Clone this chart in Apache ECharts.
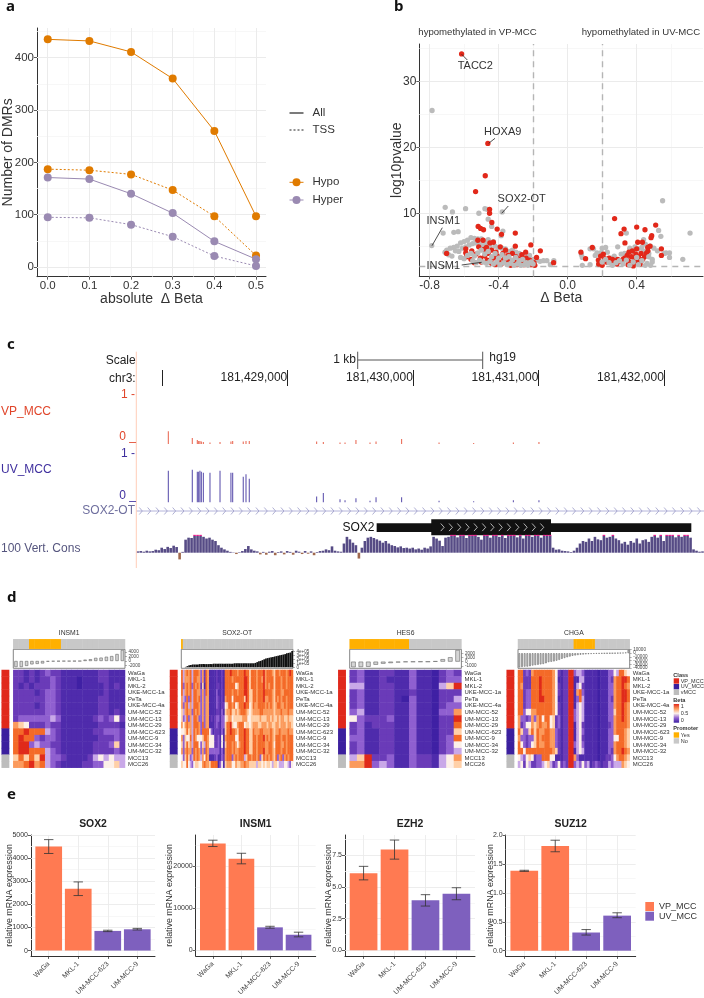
<!DOCTYPE html>
<html>
<head>
<meta charset="utf-8">
<title>Methylation panels</title>
<script src="https://cdn.jsdelivr.net/npm/echarts@6/dist/echarts.min.js"></script>
<style>
html,body{margin:0;padding:0;background:#fff;}
#main{width:704px;height:998px;}
</style>
</head>
<body>
<div id="main"></div>
<script>
/* panel a */
var thresholds = [0, 0.1, 0.2, 0.3, 0.4, 0.5];
var hypoAll = [435, 432, 411, 360, 260, 97];
var hypoTss = [187, 185, 177, 147, 97, 22];
var hyperAll = [171, 168, 140, 103, 49, 15];
var hyperTss = [95, 94, 81, 58, 21, 2];

/* panel b */
var grayLeft = [[-.785,25.6],[-.709,10.9],[-.667,10.2],[-.591,10.7],[-.514,10],[-.479,10.7],[-.466,10.6],[-.379,10.2],[-.46,9.1],[-.44,8],[-.787,5.1],[-.721,7],[-.659,7.1],[-.634,7.2],[-.375,7.3],[-.385,6.6],
[-.6,5.7],[-.58,5.9],[-.56,6.3],[-.54,6.2],[-.52,6.1],[-.5,6.1],[-.485,5.8],[-.46,6],[-.43,5.7],[-.62,5.5],[-.64,5],[-.66,4.8],[-.68,4.7],[-.7,4.4],[-.71,4.1],[-.69,3.7],[-.67,3.5],[-.65,4.3],[-.63,4.2],[-.61,4.7],[-.59,4.9],[-.57,5.2],[-.55,5.4],[-.53,5.5],[-.51,5.3],[-.49,5.1],[-.47,5.4],[-.45,5],[-.42,5],[-.4,4.8],[-.38,4.7],[-.36,4.6],[-.34,4.2],[-.32,4.4],[-.3,4.1],[-.28,3.9],[-.26,3.6],[-.24,3.3],[-.22,3.6],[-.2,3],[-.18,2.9],[-.16,2.7],[-.14,2.8],[-.12,2.8],[-.1,2.2],[-.08,2.8]];
var grayOverRed = [[-.62,3.3],[-.6,3.1],[-.58,3.6],[-.56,3.9],[-.54,3.5],[-.52,4],[-.5,4.4],[-.48,3.8],[-.46,4.2],[-.44,3.4],[-.42,3.9],[-.4,3.2],[-.38,3.7],[-.36,3.2],[-.34,3.4],[-.32,2.9],[-.3,3.3],[-.28,2.8],[-.26,3],[-.24,2.5],[-.22,2.5],[-.2,2.3],[-.55,2.8],[-.53,2.5],[-.51,2.9],[-.49,2.6],[-.47,2.4],[-.45,2.7],[-.43,2.3],[-.41,2.6],[-.39,2.2],[-.37,2.5],[-.35,2.2],[-.33,2.4],[-.31,2.1],[-.29,2.3],[-.27,2.1],[-.25,2.2],[-.23,2.1],[-.21,2.6],
[.2,2.6],[.22,3],[.24,2.5],[.26,2.1],[.28,2.5],[.3,2.8],[.32,2.3],[.34,2.9],[.36,2.1],[.38,2.6],[.41,2.2],[.43,2.8],[.45,2.1],[.47,3.4],[.4,3.3],[.46,2.4]];
var grayRight = [[.55,11.9],[.709,7],[.667,3],[.527,7.4],[.54,6.5],[.57,4],[.59,4],[.59,3.3],[.56,3.9],[.52,4.3],[.5,4.7],[.48,5],[.47,3.9],[.49,3],[.49,2.6],[.48,2.1],[.45,5.3],[.44,6],[.43,4.8],[.41,4.6],[.39,4.9],[.38,4.2],[.36,4.4],[.33,3.9],[.34,7],[.29,4.9],[.31,3.8],[.27,3.5],[.25,3.2],[.23,4.1],[.22,4.8],[.2,4.7],[.19,4],[.17,4],[.16,3.6],[.15,4.6],[.13,4.6],[.08,3.7],[.085,3.3],[.085,2.1],[.13,2.2],[.18,2.2],[.36,4.7],[.44,4.2]];
var redLeft = [[-.614,34.2],[-.462,20.6],[-.477,15.7],[-.533,13.3],[-.452,10.6],[-.452,10],[-.439,8.6],[-.518,8],[-.504,7.7],[-.487,7.5],[-.408,7.6],[-.383,6.8],[-.303,7],[-.213,5.2],[-.303,5],[-.158,4.3],[-.701,3.9],[-.243,4.1],[-.18,3.3],[-.081,2.5],
[-.59,4.6],[-.59,4],[-.585,3.4],[-.56,3],[-.555,4.3],[-.54,2.5],[-.53,3.8],[-.52,5.9],[-.515,4.9],[-.505,3.2],[-.5,2.6],[-.49,5.9],[-.485,4.5],[-.48,3.5],[-.47,4.8],[-.465,2.9],[-.46,3.9],[-.45,5.5],[-.44,2.4],[-.44,4.4],[-.43,5.6],[-.43,3.2],[-.42,2.2],[-.415,4.1],[-.405,3.5],[-.4,2.7],[-.39,4.9],[-.385,2.3],[-.375,3.9],[-.37,3],[-.36,4.4],[-.355,2.5],[-.345,3.6],[-.335,2.9],[-.33,2.1],[-.32,3.9],[-.31,2.6],[-.3,3.4],[-.295,2.2],[-.285,3.1],[-.275,2.4],[-.265,3.7],[-.255,2.7],[-.25,2.2],[-.24,3.2],[-.23,2.5],[-.22,2.9],[-.21,2.2],[-.195,2.5],[-.19,2.1]];
var redRight = [[.272,9.2],[.327,7.6],[.309,6.9],[.40,7.9],[.448,7.5],[.51,8.2],[.487,6.6],[.483,6.3],[.332,5.5],[.406,5.6],[.433,5.6],[.477,5],[.464,4.8],[.543,4.6],[.543,3.6],[.143,4.8],[.077,4.1],[.207,3.8],[.191,3.5],[.104,3.1],
[.178,2.9],[.18,2.3],[.2,2.1],[.215,3.1],[.225,2.6],[.24,3.2],[.255,2.4],[.26,3],[.27,2.8],[.285,2.3],[.29,3],[.305,2.7],[.32,3],[.33,3.2],[.345,3.6],[.35,2.8],[.355,4.1],[.365,2.5],[.37,3.4],[.375,4.3],[.385,2.4],[.39,3],[.395,3.8],[.4,4.6],[.405,2.7],[.41,3.4],[.42,2.3],[.425,3.9],[.435,3],[.445,3.4],[.455,3.9],[.465,4.3],[.35,2.2],[.38,2]];

/* panel c */
var chrTicks = [181428000, 181429000, 181430000, 181431000, 181432000];
var vpSignal = [[181428052,.26],[181428243,.12],[181428283,.08],[181428294,.06],[181428304,.06],[181428315,.05],[181428331,.04],[181428384,.03],[181428464,.04],[181428551,.05],[181428565,.06],[181428649,.05],[181428671,.06],[181428697,.06],[181429234,.05],[181429287,.04],[181429420,.03],[181429460,.03],[181429547,.08],[181429659,.03],[181429707,.05],[181429911,.1],[181430209,.03],[181430485,.02],[181430801,.03],[181431005,.04]];
var uvSignal = [[181428052,.64],[181428243,.66],[181428283,.62],[181428294,.62],[181428304,.64],[181428315,.62],[181428331,.6],[181428384,.6],[181428464,.64],[181428551,.6],[181428565,.6],[181428649,.52],[181428671,.57],[181428697,.48],[181429234,.12],[181429287,.19],[181429420,.06],[181429460,.04],[181429547,.08],[181429659,.03],[181429707,.1],[181429911,.1],[181430209,.03],[181430485,.02],[181430801,.04],[181431005,.04]];
var sox2otSpan = [181427797, 181432320];
var sox2Span = [181429712, 181432219];
var sox2Cds = [181430147, 181431101];
var consValues = [.08,.1,.06,.12,.08,.1,.18,.15,.3,.22,.35,.28,.42,.34,
-.4,.05,
.78,.9,.88,1,1,1,.95,.85,.9,.78,.7,
.45,.3,.2,.12,.05,.02,-.08,.03,
.1,.22,.4,.2,.12,.08,-.1,
.05,-.12,.06,.1,-.15,.04,.08,-.1,.1,.05,-.12,.12,.06,-.08,.1,-.06,.08,-.15,.04,.1,
.12,.2,.15,.38,.12,.08,.06,
.55,.95,.8,.6,.45,-.35,.3,
.7,.9,.95,.88,.8,
.72,.6,.7,.55,.45,
.4,.32,.38,.28,.3,.25,.3,.2,.25,.18,.3,.25,.38,
.95,.85,.72,.4,
.9,.95,1,1,.92,1,1,.88,1,1,1,.95,.78,1,1,.9,1,1,.95,1,.88,1,1,1,.92,1,.85,1,1,.95,1,1,.9,1,1,1,
.3,.18,.2,.12,.1,.08,.04,.12,
.3,.55,.7,.65,.85,.7,.95,.8,.75,1,.9,.95,1,.85,.75,
.55,.65,.48,.7,.6,.85,.55,.75,.8,.65,
.95,1,.9,1,.7,1,1,1,.92,1,.95,1,1,.9,
.2,.12,.06,.08];

/* panel d: one digit per cell, 0 = beta 0, 9 = beta 1 */
var cellLines = ['WaGa','MKL-1','MKL-2','UKE-MCC-1a','PeTa','UKE-MCC-4a','UM-MCC-52','UM-MCC-13','UM-MCC-29','UM-MCC-623','UM-MCC-9','UM-MCC-34','UM-MCC-32','MCC13','MCC26'];
var cellClass = [0,0,0,0,0,0,0,0,0,1,1,1,1,2,2];
var insm1Beta = ['221212322111111122111','221212232111011122111','212122232111011112121','222212332111111112111','222222332111111122111','222212332111111122111','222222332111111122121','233333343111111232352','765222322111111122221','889888432111111223332','898832332111111122232','899343322111111222362','899888432111111222232','686869433211112454544','778978432111122335564'];
var sox2otBeta = [
'84787848 88737287 11112112 18889888 78889886 88878889 78887688 78887898',
'84777848 87737287 11112112 18888788 88889986 88878879 78888688 87887888',
'83787838 78726187 11112212 18888885 68889986 88878889 78788688 87887888',
'84787848 87737387 11113112 18888788 78889986 68878889 88887688 87788888',
'74383848 87837377 11113212 17888588 88886986 68878889 77887687 87887888',
'73784748 88737377 11113212 25688785 68889885 68778888 78787678 87787888',
'64787738 78737377 11112213 16778667 67888765 67777887 77777677 78777877',
'63483748 87337377 12123313 35677566 66677755 66666766 67767667 67766766',
'75787748 88738377 11123213 36889655 78885665 67776677 76776677 67776776',
'55686748 78738888 53122213 16889887 68889886 68777887 77787677 87777877',
'73655848 75556887 55522315 17888885 58889886 68878889 78787688 87887888',
'63686748 88536487 55522315 16888787 57889886 68878888 77887588 87787888',
'73787738 78737387 33333313 17888787 78889886 68878889 77887688 87887888',
'53686348 78747587 11123113 27888378 78884688 78878368 78787683 78378788',
'65585435 66557877 68888135 16777557 66778776 66646656 56654665 44455435'];
var hes6Beta = ['231122113110232','231121113110233','441122113110469','231122112110222','231122103110224','231122113110233','341122113110337','532223113110229','231222113110228','231122113110226','331122113110238','231122113110235','231122113110234','469223113221457','779343113221456'];
var chgaBeta = [
'882327 888888 875212 299344 311111 011133 548865',
'882228 889888 875112 299114 411111 011132 788998',
'872228 889888 875212 299145 211111 011133 788987',
'882338 889888 875212 299178 311111 011133 788998',
'882338 889988 875112 299138 411111 011132 788998',
'882338 888888 875212 299145 411111 011133 788987',
'883557 788888 875212 299345 411111 011133 688987',
'733237 378588 562312 299345 411111 011133 788987',
'723557 678778 562312 299145 211111 011123 788887',
'863368 687788 773212 299145 311111 011133 788876',
'733233 687888 773212 299145 211111 011133 558876',
'853235 687788 773212 299345 311111 011133 788876',
'885888 888888 876212 299145 411111 011132 788987',
'543565 233888 551112 299731 111111 011223 578876',
'452542 233456 423523 299343 534123 212243 444765'];
var insm1Promoter = '000111111000000000000';
var sox2otPromoter = '1000000000000000000000000000000000000000000000000000000000000000';
var hes6Promoter = '111111110000000';
var chgaPromoter = '000000000000000000000111111110000000000000';
var insm1Expr = [-2700,-2700,-2200,-1500,-1300,-1100,-300,-200,-150,-100,-100,-80,-60,600,800,1400,1500,1900,2200,3100,4900];
var sox2otExpr = [0,0,1e4,3e4,5e4,6e4,7e4,7e4,7e4,7e4,8e4,8e4,8e4,8e4,8e4,8e4,8e4,8e4,9e4,9e4,9e4,9e4,9e4,9e4,9e4,9e4,9e4,9e4,9e4,9e4,1e5,1e5,1e5,1e5,1e5,1e5,1e5,1e5,1e5,1e5,1e5,1e5,1.1e5,1.3e5,1.5e5,1.6e5,1.8e5,2e5,2.2e5,2.3e5,2.4e5,2.5e5,2.6e5,2.7e5,2.8e5,2.9e5,3e5,3.1e5,3.2e5,3.3e5,3.5e5,3.6e5,3.7e5,4.1e5];
var hes6Expr = [-1350,-1300,-1250,-750,-500,-350,-200,-80,-60,-40,-30,100,600,1050,2800];
var chgaExpr = [-38000,-37000,-36000,-36000,-35000,-33000,-32000,-31000,-30000,-29000,-27000,-24000,-23000,-22000,-20000,-18000,-15000,-13000,-11000,-9000,-7000,-6000,-5000,-4000,-3500,-3000,-2500,-2000,-1500,-1200,-1000,-800,-500,-300,-200,-100,200,500,800,1200,2000,9000];

/* panel e */
var qpcrLines = ['WaGa','MKL-1','UM-MCC-623','UM-MCC-9'];
var sox2Qpcr = [4500,2670,850,920];
var sox2Low = [4200,2380,820,890];
var sox2High = [4800,2970,880,960];
var insm1Qpcr = [25300,21700,5450,3700];
var insm1Low = [24600,20500,5250,3200];
var insm1High = [26100,23000,5700,4300];
var ezh2Qpcr = [6.09,7.97,3.96,4.48];
var ezh2Low = [5.57,7.21,3.5,4.0];
var ezh2High = [6.64,8.72,4.4,4.95];
var suz12Qpcr = [1.38,1.81,.314,.606];
var suz12Low = [1.37,1.71,.27,.57];
var suz12High = [1.39,1.91,.365,.655];

var FONT = '"Liberation Sans"';
var ORANGE = '#E07B00', LILAC = '#9A8AB2', RED = '#E2281A', GREY = '#BBBBBB';
var VP_ORANGE = '#FF7A52', UV_PURPLE = '#7E60BE';
var grids = [], xAxes = [], yAxes = [], series = [], graphics = [];
var betaSeries = [], promoterSeries = [], classSeries = [];

function addGrid(box, x, y, extra) {
	var i = grids.length;
	grids.push(Object.assign({left: box[0], top: box[1], width: box[2], height: box[3]}, extra || {}));
	xAxes.push(Object.assign({gridIndex: i}, x));
	yAxes.push(Object.assign({gridIndex: i}, y));
	return i;
}
function addSeries(gi, s) {
	series.push(Object.assign({xAxisIndex: gi, yAxisIndex: gi}, s));
	return series.length - 1;
}
function text(x, y, str, o) {
	o = o || {};
	graphics.push({type: 'text', x: x, y: y, rotation: o.rotation || 0, z: 20, style: {
		text: str, fill: o.color || '#333',
		font: (o.weight || 'normal') + ' ' + (o.size || 12) + 'px ' + (o.family || FONT),
		textAlign: o.align || 'left', textVerticalAlign: 'middle'
	}});
}
function seg(x1, y1, x2, y2, color, w, dash) {
	graphics.push({type: 'line', z: 20, shape: {x1: x1, y1: y1, x2: x2, y2: y2},
		style: {stroke: color, lineWidth: w || 1, lineDash: dash || null}});
}
function box(x, y, w, h, fill) {
	graphics.push({type: 'rect', z: 20, shape: {x: x, y: y, width: w, height: h}, style: {fill: fill}});
}
function ref(gi, xs, ys, color, w, dash) {
	addSeries(gi, {type: 'line', data: [], silent: true, z: 1, markLine: {
		z: 1, silent: true, symbol: 'none', animation: false, label: {show: false},
		lineStyle: {color: color, width: w, type: dash || 'solid'},
		data: xs.map(function(v){return {xAxis: v};}).concat(ys.map(function(v){return {yAxis: v};}))
	}});
}
function valueAxis(min, max, ticks, digits, fs, extra) {
	var lab = {customValues: ticks, fontFamily: FONT, fontSize: fs, color: '#333', margin: 3,
		formatter: function(v){ return digits == null ? String(v) : Number(v).toFixed(digits); }};
	return Object.assign({type: 'value', min: min, max: max, splitLine: {show: false}, nameMoveOverlap: false,
		axisLine: {show: true, onZero: false, lineStyle: {color: '#333', width: 1}},
		axisTick: {show: true, customValues: ticks, length: 3, lineStyle: {color: '#333', width: .8}},
		axisLabel: lab}, extra || {});
}

/* ---- a ---- */
var ga = addGrid([35.5, 28, 230.5, 248.7],
	valueAxis(-.0258, .524, thresholds, 1, 11.5, {name: 'absolute  \u0394 Beta', nameLocation: 'middle', nameGap: 15,
		nameTextStyle: {fontFamily: FONT, fontSize: 14, color: '#333'}}),
	valueAxis(-18.5, 456.7, [0,100,200,300,400], null, 11.5, {name: 'Number of DMRs', nameLocation: 'middle', nameGap: 22,
		nameTextStyle: {fontFamily: FONT, fontSize: 14, color: '#333'}}));
ref(ga, [.05,.15,.25,.35,.45], [50,150,250,350,450], '#f5f5f5', .8);
ref(ga, thresholds, [0,100,200,300,400], '#ebebeb', 1);
function dmrLine(vals, color, dashed) {
	addSeries(ga, {type: 'line', data: vals.map(function(v, i){return [thresholds[i], v];}), symbol: 'circle', symbolSize: 8,
		itemStyle: {color: color}, lineStyle: {color: color, width: 1, type: dashed ? [2, 2] : 'solid'}, z: 5});
}
dmrLine(hypoAll, ORANGE); dmrLine(hypoTss, ORANGE, true);
dmrLine(hyperAll, LILAC); dmrLine(hyperTss, LILAC, true);
seg(289.5, 113, 303.5, 113, '#222', 1.2); seg(289.5, 130, 303.5, 130, '#222', 1.2, [2, 2]);
text(312.5, 113, 'All', {size: 11.5}); text(312.5, 130, 'TSS', {size: 11.5});
seg(289.5, 182.3, 303.5, 182.3, ORANGE, 1); seg(289.5, 200, 303.5, 200, LILAC, 1);
graphics.push({type: 'circle', z: 20, shape: {cx: 296.5, cy: 182.3, r: 4}, style: {fill: ORANGE}});
graphics.push({type: 'circle', z: 20, shape: {cx: 296.5, cy: 200, r: 4}, style: {fill: LILAC}});
text(312.5, 182.3, 'Hypo', {size: 11.5}); text(312.5, 200, 'Hyper', {size: 11.5});

/* ---- b ---- */
var gb = addGrid([419.3, 44, 283.7, 232.3],
	valueAxis(-.859, .784, [-.8,-.4,0,.4], 1, 12, {name: '\u0394 Beta', nameLocation: 'middle', nameGap: 15,
		nameTextStyle: {fontFamily: FONT, fontSize: 14, color: '#333'}}),
	valueAxis(.43, 35.7, [10,20,30], null, 12, {name: 'log10pvalue', nameLocation: 'middle', nameGap: 15,
		nameTextStyle: {fontFamily: FONT, fontSize: 14, color: '#333'}}));
ref(gb, [-.6,-.2,.2,.6], [5,15,25,35], '#f5f5f5', .8);
ref(gb, [-.8,-.4,0,.4], [10,20,30], '#ebebeb', 1);
ref(gb, [-.2,.2], [2], '#b5b5b5', 1.4, [6, 5]);
addSeries(gb, {type: 'scatter', data: grayLeft.concat(grayRight), symbolSize: 5.3, itemStyle: {color: GREY, opacity: 1}, z: 3});
addSeries(gb, {type: 'scatter', data: redLeft.concat(redRight), symbolSize: 5.3, itemStyle: {color: RED, opacity: 1}, z: 4});
addSeries(gb, {type: 'scatter', data: grayOverRed, symbolSize: 5.3, itemStyle: {color: GREY, opacity: 1}, z: 5});
text(418.3, 32, 'hypomethylated in VP-MCC', {size: 9.6}); text(581.7, 32, 'hypomethylated in UV-MCC', {size: 9.6});
text(475.3, 66, 'TACC2', {size: 11, align: 'center'}); seg(461.7, 54.3, 467.3, 60, '#222', .8);
text(502.7, 132, 'HOXA9', {size: 11, align: 'center'}); seg(488.7, 143.3, 495, 138.3, '#222', .8);
text(521.7, 199, 'SOX2-OT', {size: 11, align: 'center'}); seg(501.7, 213.3, 508.3, 206, '#222', .8);
text(443.3, 221.3, 'INSM1', {size: 11, align: 'center'}); seg(432, 245.7, 442.3, 227.7, '#222', .8);
text(443.3, 265.7, 'INSM1', {size: 11, align: 'center'}); seg(461.7, 265, 481.7, 262.3, '#222', .8);

/* ---- c ---- */
var trackLeft = 136.3, trackWidth = 567.7;
var chrMin = sox2otSpan[0], chrMax = sox2otSpan[1];
var hiddenChr = {type: 'value', min: chrMin, max: chrMax, show: false};
addGrid([trackLeft, 370, trackWidth, 16], {type: 'value', min: chrMin, max: chrMax, splitLine: {show: false},
	axisLine: {show: false},
	axisTick: {show: true, inside: true, length: 16, customValues: chrTicks, lineStyle: {color: '#222', width: 1}},
	axisLabel: {customValues: chrTicks.slice(1), inside: true, margin: 2, align: 'right', fontFamily: FONT, fontSize: 12, color: '#222',
		formatter: function(v){ return Number(v).toLocaleString('en-US'); }}
}, {type: 'value', show: false, min: 0, max: 1});
var gvp = addGrid([trackLeft, 395, trackWidth, 49], hiddenChr, {type: 'value', show: false, min: 0, max: 1});
addSeries(gvp, {type: 'bar', data: vpSignal, barWidth: 1, itemStyle: {color: '#E8604A'}});
var guv = addGrid([trackLeft, 453, trackWidth, 49.3], hiddenChr, {type: 'value', show: false, min: 0, max: 1});
addSeries(guv, {type: 'bar', data: uvSignal, barWidth: 1, itemStyle: {color: '#5347A8'}});
var ggene = addGrid([trackLeft, 503, trackWidth, 36], hiddenChr, {type: 'value', show: false, min: 0, max: 1});
function chevron(x, y, w, h, color, lw) {
	return {type: 'polyline', shape: {points: [[x, y - h], [x + w, y], [x, y + h]]}, style: {stroke: color, fill: null, lineWidth: lw}};
}
addSeries(ggene, {type: 'custom', data: [sox2otSpan], clip: true, encode: {x: [0, 1]}, renderItem: function(params, api) {
	var a = api.coord([api.value(0), 0])[0], b = api.coord([api.value(1), 0])[0], y = 511, kids = [];
	kids.push({type: 'line', shape: {x1: a, y1: y, x2: b, y2: y}, style: {stroke: '#B4B4DA', lineWidth: 1}});
	for (var x = a + 3; x < b; x += 8.33) kids.push(chevron(x, y, 3, 3.5, '#9A9AC8', .8));
	return {type: 'group', children: kids};
}});
addSeries(ggene, {type: 'custom', data: [[sox2Span[0], sox2Span[1], sox2Cds[0], sox2Cds[1]]], clip: false, encode: {x: [0, 1]}, renderItem: function(params, api) {
	var a = api.coord([api.value(0), 0])[0], b = api.coord([api.value(1), 0])[0];
	var c = api.coord([api.value(2), 0])[0], d = api.coord([api.value(3), 0])[0], kids = [];
	kids.push({type: 'rect', shape: {x: a, y: 523.3, width: b - a, height: 8.7}, style: {fill: '#111'}});
	kids.push({type: 'rect', shape: {x: c, y: 519.3, width: d - c, height: 16}, style: {fill: '#111'}});
	for (var x = c + 9.5; x < d - 8; x += 8.3) kids.push(chevron(x, 527.3, 3.4, 3.8, '#ddd', .8));
	return {type: 'group', children: kids};
}});
var consIdx = consValues.map(function(v, i){return i;});
var gcons = addGrid([trackLeft, 534, trackWidth, 27.4], {type: 'category', data: consIdx, show: false},
	{type: 'value', show: false, min: -.52, max: 1.12});
addSeries(gcons, {type: 'bar', data: consValues, barWidth: 2.6, stack: 'cons', itemStyle: {
	color: function(p){ return p.value < 0 ? '#A0694E' : '#564B85'; }}});
addSeries(gcons, {type: 'bar', data: consValues.map(function(v){return v >= 1 ? .07 : 0;}), barWidth: 2.6, stack: 'cons', itemStyle: {color: '#E6208C'}});
seg(trackLeft, 351.7, trackLeft, 568, '#FFCDB8', 1);
text(135.7, 361, 'Scale', {align: 'right', color: '#222'}); text(135.7, 378.7, 'chr3:', {align: 'right', color: '#222'});
text(356, 360, '1 kb', {align: 'right', color: '#222'}); text(489.3, 357.7, 'hg19', {color: '#222'});
seg(357.7, 360, 482.7, 360, '#555', 1); seg(357.7, 351.7, 357.7, 369, '#555', 1); seg(482.7, 351.7, 482.7, 369, '#555', 1);
text(135, 395, '1 -', {align: 'right', color: '#E0452A'}); text(136, 437, '0 _', {align: 'right', color: '#E0452A'});
text(135, 453.3, '1 -', {align: 'right', color: '#3F2F9E'}); text(136, 495.3, '0 _', {align: 'right', color: '#3F2F9E'});
text(1, 411.5, 'VP_MCC', {color: '#E0452A'}); text(1, 469.5, 'UV_MCC', {color: '#3F2F9E'});
text(135, 511, 'SOX2-OT', {align: 'right', color: '#6E6E9E'}); text(1, 548.5, '100 Vert. Cons', {color: '#55557E'});
text(374.5, 527.5, 'SOX2', {align: 'right', color: '#111'});

/* ---- d ---- */
function heatPanel(title, left, classLeft, beta, promoter, expr, yMin, yMax, yTicks, yFmt) {
	var width = 111.7, heatTop = 670, heatH = 97.7;
	var rows = beta.map(function(r){ return r.replace(/ /g, ''); });
	var cols = rows[0].split('').map(function(c, i){ return i; });
	var solid = cols.length > 50;
	var gp = addGrid([left, 639.3, width, 9.4], {type: 'category', data: cols, show: false}, {type: 'category', data: ['p'], show: false});
	promoterSeries.push(addSeries(gp, {type: 'heatmap', progressive: 0, data: cols.map(function(i){ return [i, 0, Number(promoter[i])]; })}));
	var gm = addGrid([left, 649.3, width, 19], {type: 'category', data: cols, show: false}, {
		type: 'value', min: yMin, max: yMax, position: 'right', splitLine: {show: false}, axisLine: {show: false},
		axisTick: {show: true, length: 2, customValues: yTicks, lineStyle: {color: '#666', width: .5}},
		axisLabel: {show: false}
	}, {show: true, borderColor: '#666', borderWidth: .8, backgroundColor: '#fff'});
	addSeries(gm, {type: 'bar', data: expr, barWidth: solid ? '100%' : '62%',
		itemStyle: {color: solid ? '#111' : '#D5D5D5', borderColor: solid ? '#111' : '#666', borderWidth: solid ? 0 : .6}});
	// the axis drops labels this close together, so they are placed on the same scale by hand
	addSeries(gm, {type: 'custom', clip: false, data: yTicks.map(function(v){ return [0, v]; }), encode: {x: 0, y: 1}, renderItem: function(params, api) {
		var v = api.value(1), sys = params.coordSys;
		return {type: 'text', x: sys.x + sys.width + 3.5, y: api.coord([0, v])[1], style: {
			text: yFmt(v), fill: '#444', font: '4.6px ' + FONT, textAlign: 'left', textVerticalAlign: 'middle'}};
	}});
	var gh = addGrid([left, heatTop, width, heatH], {type: 'category', data: cols, show: false}, {
		type: 'category', data: cellLines, inverse: true, position: 'right', axisLine: {show: false}, axisTick: {show: false},
		axisLabel: {interval: 0, fontFamily: FONT, fontSize: 6, color: '#333', margin: 3}});
	var cells = [];
	rows.forEach(function(r, y){ r.split('').forEach(function(d, x){ cells.push([x, y, Number(d)]); }); });
	betaSeries.push(addSeries(gh, {type: 'heatmap', progressive: 0, data: cells}));
	var gc = addGrid([classLeft, heatTop, 7.4, heatH], {type: 'category', data: ['c'], show: false}, {type: 'category', data: cellLines, inverse: true, show: false});
	classSeries.push(addSeries(gc, {type: 'heatmap', progressive: 0, data: cellClass.map(function(c, y){ return [0, y, c]; })}));
	text(left + width / 2, 633, title, {size: 6.8, align: 'center'});
}
function plain(v){ return String(v); }
function sci(v){ return v === 0 ? '0' : (v / 1e5) + 'e+05'; }
heatPanel('INSM1', 13.3, 1.7, insm1Beta, insm1Promoter, insm1Expr, -3250, 5200, [-2000,0,2000,4000], plain);
heatPanel('SOX2-OT', 181.3, 170, sox2otBeta, sox2otPromoter, sox2otExpr, -25000, 450000, [0,1e5,2e5,3e5,4e5], sci);
heatPanel('HES6', 349.7, 338.3, hes6Beta, hes6Promoter, hes6Expr, -1600, 2960, [-1000,0,1000,2000], plain);
heatPanel('CHGA', 518, 506.7, chgaBeta, chgaPromoter, chgaExpr, -40500, 10500, [-40000,-30000,-20000,-10000,0,10000], plain);
text(673.3, 675, 'Class', {size: 5.6, weight: 'bold'});
box(673.7, 678.3, 5.4, 5.4, '#E0291C'); box(673.7, 684, 5.4, 5.4, '#3B1F9E'); box(673.7, 689.6, 5.4, 5.4, '#BDBDBD');
text(680.7, 681.2, 'VP_MCC', {size: 5.5}); text(680.7, 686.8, 'UV_MCC', {size: 5.5}); text(680.7, 692.4, 'vMCC', {size: 5.5});
text(673.3, 700.7, 'Beta', {size: 5.6, weight: 'bold'});
graphics.push({type: 'rect', z: 20, shape: {x: 673.7, y: 704, width: 5.4, height: 18.7}, style: {fill: new echarts.graphic.LinearGradient(0, 0, 0, 1, [
	{offset: 0, color: '#E0291C'}, {offset: .25, color: '#FB9A5C'}, {offset: .5, color: '#FDF0E8'}, {offset: .75, color: '#8F5FD0'}, {offset: 1, color: '#3B1FA3'}])}});
text(680.7, 706.7, '1', {size: 5.5}); text(680.7, 713.3, '0.5', {size: 5.5}); text(680.7, 720, '0', {size: 5.5});
text(673.3, 728, 'Promoter', {size: 5.6, weight: 'bold'});
box(673.7, 732.3, 5.4, 5.4, '#FFB000'); box(673.7, 738.2, 5.4, 5.4, '#C8C8C8');
text(680.7, 735, 'Yes', {size: 5.5}); text(680.7, 741, 'No', {size: 5.5});

/* ---- e ---- */
function qpcrPanel(title, gridLeft, gridWidth, barW, yMin, yMax, yMaj, yMinor, digits, nameGap, vals, lo, hi) {
	var xs = qpcrLines.map(function(c, i){ return i; });
	var g = addGrid([gridLeft, 835, gridWidth, 122.3],
		valueAxis(-.6, 3.6, xs, null, 7, {axisLabel: {customValues: xs, rotate: 45, interval: 0, fontFamily: FONT, fontSize: 7, color: '#444', margin: 7,
			formatter: function(v){ return qpcrLines[v]; }}}),
		valueAxis(yMin, yMax, yMaj, digits, 7, {name: 'relative mRNA expression', nameLocation: 'middle', nameGap: nameGap,
			nameTextStyle: {fontFamily: FONT, fontSize: 8.9, color: '#333'}}));
	ref(g, [], yMinor, '#f5f5f5', .8);
	ref(g, xs, yMaj, '#ebebeb', .9);
	addSeries(g, {type: 'bar', barWidth: barW, z: 3, data: vals.map(function(v, i){ return [i, v]; }), itemStyle: {
		color: function(p){ return p.dataIndex < 2 ? VP_ORANGE : UV_PURPLE; }}});
	addSeries(g, {type: 'custom', z: 4, data: vals.map(function(v, i){ return [i, lo[i], hi[i]]; }), encode: {x: 0, y: [1, 2]}, renderItem: function(params, api) {
		var a = api.coord([api.value(0), api.value(1)]), b = api.coord([api.value(0), api.value(2)]);
		var st = {stroke: '#333', lineWidth: .8};
		return {type: 'group', children: [
			{type: 'line', shape: {x1: a[0], y1: a[1], x2: b[0], y2: b[1]}, style: st},
			{type: 'line', shape: {x1: a[0] - 4.7, y1: a[1], x2: a[0] + 4.7, y2: a[1]}, style: st},
			{type: 'line', shape: {x1: b[0] - 4.7, y1: b[1], x2: b[0] + 4.7, y2: b[1]}, style: st}]};
	}});
	text(gridLeft + gridWidth / 2, 824.5, title, {size: 10.4, weight: 'bold', align: 'center', color: '#222'});
}
qpcrPanel('SOX2', 31, 124, 26.7, -230, 5000, [0,1000,2000,3000,4000,5000], [500,1500,2500,3500,4500], null, 17, sox2Qpcr, sox2Low, sox2High);
qpcrPanel('INSM1', 195.7, 120, 25.7, -1310, 27330, [0,10000,20000], [5000,15000,25000], null, 21.5, insm1Qpcr, insm1Low, insm1High);
qpcrPanel('EZH2', 345, 130, 27.7, -.44, 9.12, [0,2.5,5,7.5], [1.25,3.75,6.25,8.75], 1, 11.5, ezh2Qpcr, ezh2Low, ezh2High);
qpcrPanel('SUZ12', 505.7, 130, 27.7, -.09, 2, [0,.5,1,1.5,2], [.25,.75,1.25,1.75], 1, 10.5, suz12Qpcr, suz12Low, suz12High);
box(645.3, 902, 8.7, 9, VP_ORANGE); box(645.3, 911.7, 8.7, 9, UV_PURPLE);
text(659, 906.5, 'VP_MCC', {size: 9}); text(659, 916.2, 'UV_MCC', {size: 9});

/* panel letters */
var letter = {size: 15, weight: 'bold', family: '"Noto Sans"', color: '#111'};
text(6, 7, 'a', letter); text(394, 7, 'b', letter); text(7, 345, 'c', letter); text(7, 598, 'd', letter); text(7, 795, 'e', letter);

var chart = echarts.init(document.getElementById('main'), null, {renderer: 'canvas'});
chart.setOption({
	animation: false,
	backgroundColor: '#fff',
	tooltip: {show: false},
	grid: grids, xAxis: xAxes, yAxis: yAxes, series: series,
	visualMap: [
		{show: false, type: 'continuous', min: 0, max: 9, seriesIndex: betaSeries,
			inRange: {color: ['#3F20A4','#4F2BAC','#6A3BB8','#8F5FD0','#C9A8E8','#FDF0E8','#FFD0A8','#FB9A5C','#F46A28','#E02A1A']}},
		{show: false, type: 'continuous', min: 0, max: 1, seriesIndex: promoterSeries, inRange: {color: ['#C8C8C8','#FFB000']}},
		{show: false, type: 'continuous', min: 0, max: 2, seriesIndex: classSeries, inRange: {color: ['#E0291C','#3B1F9E','#BDBDBD']}}
	],
	graphic: {elements: graphics}
});
</script>
</body>
</html>
